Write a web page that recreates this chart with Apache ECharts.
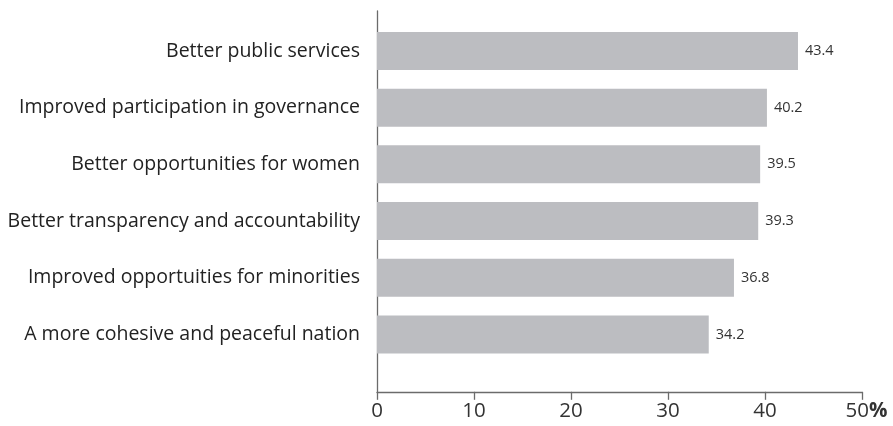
<!DOCTYPE html>
<html>
<head>
<meta charset="utf-8">
<script src="https://cdn.jsdelivr.net/npm/echarts@6/dist/echarts.min.js"></script>
<style>html,body{margin:0;padding:0;background:#fff}#c{width:893px;height:426px}</style>
</head>
<body>
<div id="c"></div>
<script>
const categories = [
  "Better public services",
  "Improved participation in governance",
  "Better opportunities for women",
  "Better transparency and accountability",
  "Improved opportuities for minorities",
  "A more cohesive and peaceful nation"
];
const values = [43.4, 40.2, 39.5, 39.3, 36.8, 34.2];
const xTicks = [0, 10, 20, 30, 40, 50];
const unitLabel = '%';

const FONT = '"Open Sans", "Noto Sans", sans-serif';
const chart = echarts.init(document.getElementById('c'), null, {renderer: 'canvas'});
const lastTick = xTicks[xTicks.length - 1];
chart.setOption({
  animation: false,
  grid: [
    {left: 377, right: 31, top: 22.6, bottom: 63.2, containLabel: false, outerBoundsMode: 'none'},
    {left: 377, right: 31, top: 11, bottom: 34, containLabel: false, outerBoundsMode: 'none'}
  ],
  xAxis: [
    {
      gridIndex: 0, type: 'value', min: xTicks[0], max: lastTick, interval: 10,
      offset: 29,
      axisLine: {show: true, lineStyle: {color: '#6b6b6b', width: 1.3}},
      axisTick: {show: true, inside: false, length: 8, lineStyle: {color: '#6b6b6b', width: 1.3}},
      splitLine: {show: false},
      axisLabel: {fontFamily: FONT, fontSize: 20.5, color: '#333', margin: 9,
        formatter: v => v === lastTick ? '{s| }{n|' + v + '}{p|' + unitLabel + '}' : String(v),
        rich: {
          s: {width: 9, fontSize: 20.5, fontFamily: FONT},
          n: {fontSize: 20.5, fontFamily: FONT, color: '#333'},
          p: {fontSize: 20.5, fontFamily: FONT, fontWeight: 'bold', color: '#333'}
        }
      }
    },
    {gridIndex: 1, type: 'value', show: false}
  ],
  yAxis: [
    {
      gridIndex: 0, type: 'category', data: categories, inverse: true,
      axisLine: {show: false}, axisTick: {show: false},
      axisLabel: {fontFamily: FONT, fontSize: 19.5, color: '#222', margin: 17}
    },
    {
      gridIndex: 1, type: 'value', min: 0, max: 1,
      axisLine: {show: true, lineStyle: {color: '#6b6b6b', width: 1.3}},
      axisTick: {show: false}, axisLabel: {show: false}, splitLine: {show: false}
    }
  ],
  series: [{
    type: 'bar', xAxisIndex: 0, yAxisIndex: 0, data: values, barWidth: 38,
    itemStyle: {color: '#bcbdc1'},
    label: {show: true, position: 'right', distance: 7, fontFamily: FONT, fontSize: 14.5, color: '#333',
      formatter: p => p.value.toFixed(1)}
  }]
});
</script>
</body>
</html>
